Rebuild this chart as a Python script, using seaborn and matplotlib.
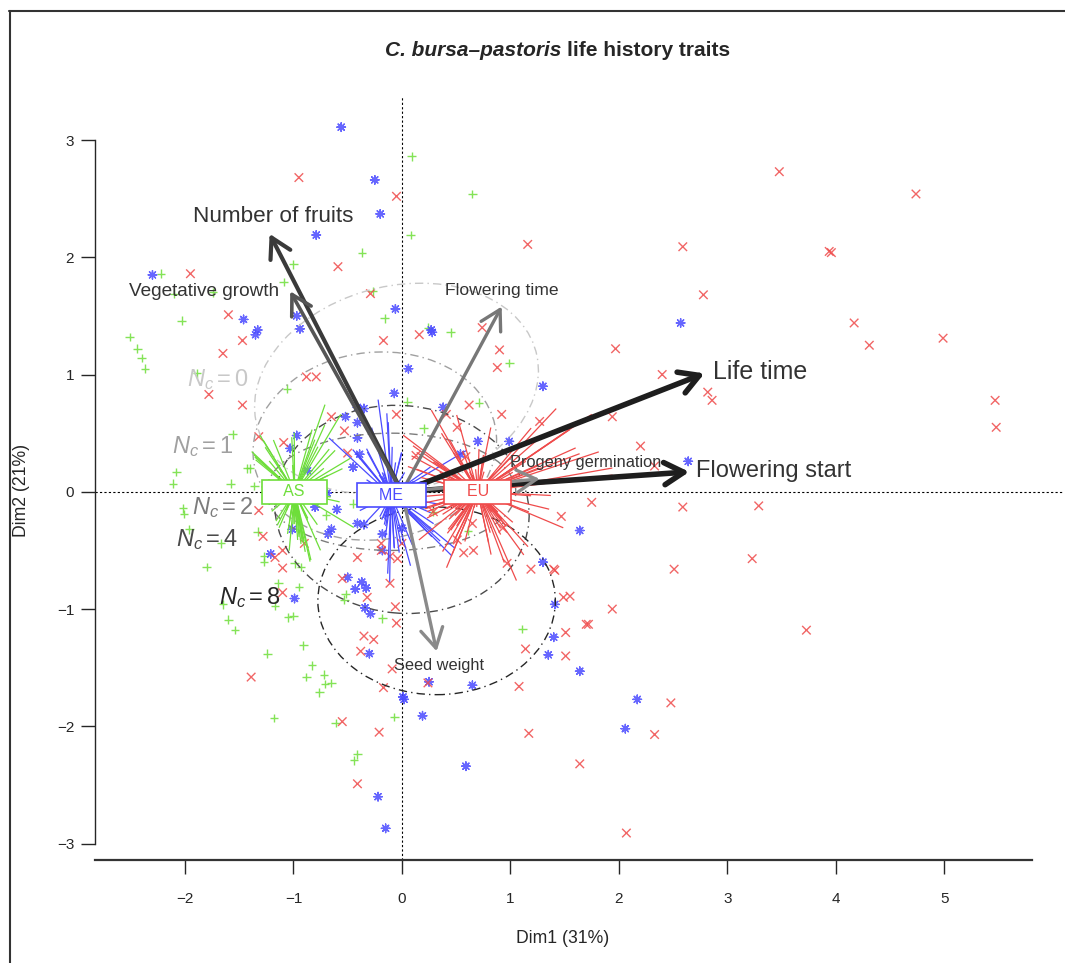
import numpy as np
import pandas as pd
import seaborn as sns
import matplotlib.pyplot as plt
from matplotlib.patches import Ellipse
from matplotlib.collections import LineCollection
from matplotlib.lines import Line2D

# individuals on the first two PCA dimensions
as_x = [0.09, 0.65, 0.08, -0.37, -1.0, -2.22, -1.09, -0.27, -2.1, -1.74, -2.03, -2.51, -2.44, -2.4,
        -2.37, -0.16, 0.24, 0.45, 0.99, -1.89, -1.06, 0.05, 0.71, 0.2, -1.56, -2.08, -1.43, -1.4,
        -2.11, -1.58, -1.36, -2.02, -2.01, -0.7, -0.45, -1.96, -1.33, -1.67, -1.8, -1.27, -1.27,
        -0.99, -0.93, -1.14, -0.95, -1.65, -1.17, -1.6, -1.54, -1.05, -1.0, -0.52, -0.53, -0.18,
        -0.91, -1.24, -0.83, -0.88, -0.72, -0.71, -0.65, -0.76, 1.11, -1.18, -0.61, -0.07, -0.41,
        -0.44, 0.61, 0.29]
as_y = [2.86, 2.54, 2.19, 2.04, 1.94, 1.86, 1.79, 1.71, 1.69, 1.70, 1.46, 1.32, 1.22, 1.14,
        1.05, 1.48, 1.40, 1.36, 1.10, 1.01, 0.88, 0.77, 0.76, 0.54, 0.49, 0.17, 0.20, 0.20,
        0.07, 0.07, 0.05, -0.14, -0.19, -0.20, -0.10, -0.32, -0.34, -0.44, -0.64, -0.55, -0.60,
        -0.61, -0.64, -0.78, -0.81, -0.96, -0.97, -1.09, -1.18, -1.07, -1.06, -0.87, -0.92, -1.08,
        -1.31, -1.38, -1.48, -1.58, -1.56, -1.64, -1.63, -1.71, -1.17, -1.93, -1.97, -1.92, -2.24,
        -2.29, -0.33, -0.17]

me_x = [-0.56, -0.25, -0.2, -0.79, -2.3, -1.46, -1.33, -1.35, -0.97, -0.94, -0.06, 0.28, 0.27,
        2.57, 1.3, 0.06, -0.07, -0.41, -0.35, -0.52, -0.41, -0.41, 0.38, 0.7, 0.99, -0.97, -1.03,
        -0.39, -0.45, -0.87, 0.54, 2.64, -0.69, -0.6, -0.8, -1.01, -0.65, -0.68, -0.41, -0.35,
        -0.18, -0.18, 0.0, 1.64, -1.21, -0.99, -0.5, -0.37, -0.33, -0.43, -0.34, -0.29, -0.3,
        0.01, 0.02, 0.25, 0.65, 1.35, 1.4, 1.41, 1.3, 1.64, 2.17, 2.06, 0.19, 0.59, -0.22, -0.15]
me_y = [3.11, 2.66, 2.37, 2.19, 1.85, 1.47, 1.38, 1.34, 1.50, 1.39, 1.56, 1.36, 1.38,
        1.44, 0.90, 1.05, 0.84, 0.72, 0.71, 0.64, 0.59, 0.46, 0.72, 0.43, 0.43, 0.48, 0.37,
        0.32, 0.21, 0.18, 0.32, 0.26, -0.01, -0.15, -0.13, -0.32, -0.32, -0.36, -0.27, -0.28,
        -0.36, -0.50, -0.31, -0.33, -0.53, -0.91, -0.73, -0.77, -0.82, -0.83, -0.99, -1.04, -1.38,
        -1.75, -1.77, -1.62, -1.65, -1.39, -1.24, -0.96, -0.60, -1.53, -1.77, -2.02, -1.91, -2.34,
        -2.60, -2.87]

eu_x = [3.48, 4.74, 3.94, 3.96, 1.16, 2.59, 2.78, 4.17, 4.31, 4.99, 1.97, 2.4, 2.82, 2.86, 5.47,
        5.48, 1.94, 2.2, 2.33, 1.75, 2.59, 3.29, 1.47, 3.23, 2.51, 1.41, 1.49, 1.55, 1.94, 1.7,
        1.72, 3.73, 1.51, 1.51, 2.48, 2.33, 1.64, 2.07, -0.95, -0.05, -0.59, -1.95, -0.29, -1.6,
        -1.47, -1.65, -0.17, 0.16, 0.74, 0.9, 0.88, -0.88, -0.79, -1.78, -1.47, -0.05, -0.65,
        -0.53, 0.62, 0.92, 0.51, 0.41, 1.27, -1.32, -1.09, -0.5, 0.13, 0.59, -1.32, -1.28, -0.9,
        -0.19, -0.19, -0.11, -0.04, -0.41, -0.11, -1.17, -1.1, -1.1, -1.1, -0.55, -0.32, -0.06,
        -0.05, -0.35, -0.26, -0.38, -1.39, -0.09, -0.17, 0.24, 1.08, 1.14, 1.19, 1.4, 1.17, -0.55,
        -0.21, -0.41, 0.57, 0.66, 0.51, 0.65, 0.29, 0.0, 0.93, 0.97]
eu_y = [2.73, 2.54, 2.05, 2.04, 2.11, 2.09, 1.68, 1.44, 1.25, 1.31, 1.22, 1.0, 0.85, 0.78, 0.78,
        0.55, 0.64, 0.39, 0.22, -0.09, -0.13, -0.12, -0.21, -0.57, -0.66, -0.67, -0.90, -0.89,
        -1.0, -1.13, -1.13, -1.18, -1.20, -1.40, -1.80, -2.07, -2.32, -2.91, 2.68, 2.52, 1.92,
        1.86, 1.69, 1.51, 1.29, 1.18, 1.29, 1.34, 1.40, 1.21, 1.06, 0.98, 0.98, 0.83, 0.74, 0.66,
        0.64, 0.52, 0.74, 0.66, 0.55, 0.66, 0.60, 0.47, 0.42, 0.33, 0.31, 0.30, -0.16, -0.38,
        -0.44, -0.44, -0.50, -0.55, -0.57, -0.56, -0.78, -0.56, -0.65, -0.50, -0.86, -0.74, -0.90,
        -0.98, -1.12, -1.23, -1.26, -1.36, -1.58, -1.51, -1.67, -1.63, -1.66, -1.34, -0.66, -0.66,
        -2.06, -1.96, -2.05, -2.49, -0.52, -0.50, -0.41, -0.27, -0.17, -0.44, -0.31, -0.61]

groups = ["AS", "ME", "EU"]
centre_x = [-0.99, -0.10, 0.70]
centre_y = [0.00, -0.03, 0.00]
star_shrink = 0.26

# trait loadings (arrow tips)
traits = ["Number of fruits", "Vegetative growth", "Flowering time", "Life time",
          "Flowering start", "Progeny germination", "Seed weight"]
trait_x = [-1.22, -1.03, 0.92, 2.79, 2.65, 1.27, 0.32]
trait_y = [2.20, 1.71, 1.58, 1.01, 0.17, 0.11, -1.36]

# ellipses for the number of clusters Nc
nc_values = ["0", "1", "2", "4", "8"]
ell_x = [-0.05, -0.25, -0.10, 0.00, 0.32]
ell_y = [0.88, 0.39, 0.00, -0.15, -0.93]
ell_w = [2.65, 2.25, 2.30, 2.35, 2.19]
ell_h = [1.75, 1.60, 1.00, 1.77, 1.60]
ell_angle = [12, 5, 0, -5, 0]

# ---- styling / layout
pal = {"AS": "#6ede3a", "ME": "#4b4bff", "EU": "#ef4b4b"}
marks = {"AS": "+", "ME": (8, 2, 0), "EU": "x"}
nc_grey = ["#c8c8c8", "#a0a0a0", "#7c7c7c", "#4a4a4a", "#262626"]
nc_lab_pos = [(-1.70, 0.96), (-1.84, 0.39), (-1.65, -0.13), (-1.80, -0.41), (-1.40, -0.90)]

arrow_col = ["#3a3a3a", "#555555", "#777777", "#1e1e1e", "#1e1e1e", "#8a8a8a", "#8a8a8a"]
arrow_lw = [3.0, 2.6, 2.4, 4.0, 4.0, 2.4, 2.4]
lab_pos = [(-1.19, 2.35), (-1.82, 1.71), (0.92, 1.72), (2.87, 1.02), (2.71, 0.18),
           (1.69, 0.25), (0.34, -1.48)]
lab_ha = ["center", "center", "center", "left", "left", "center", "center"]
lab_fs = [16.2, 13.7, 12.6, 18, 17, 11.8, 11.8]

sns.set_style("ticks")
plt.rcParams["font.family"] = ["Liberation Sans", "DejaVu Sans"]
plt.rcParams["mathtext.fontset"] = "custom"
plt.rcParams["mathtext.rm"] = "Liberation Sans"
plt.rcParams["mathtext.it"] = "Liberation Sans:italic"

W, H = 1065, 963
fig = plt.figure(figsize=(W / 100, H / 100), dpi=100)
ax = fig.add_axes([95 / W, 1 - 860 / H, (1032 - 95) / W, (860 - 97) / H])

df = pd.concat([
    pd.DataFrame({"x": as_x, "y": as_y, "group": "AS"}),
    pd.DataFrame({"x": me_x, "y": me_y, "group": "ME"}),
    pd.DataFrame({"x": eu_x, "y": eu_y, "group": "EU"}),
], ignore_index=True)

sns.scatterplot(data=df, x="x", y="y", hue="group", style="group", palette=pal,
                markers=marks, s=38, linewidth=1.0, alpha=0.85, legend=False, ax=ax, zorder=2)

# star lines from each group centre towards its individuals
for g, cx, cy in zip(groups, centre_x, centre_y):
    sub = df[df["group"] == g]
    ex = cx + star_shrink * (sub["x"].values - cx)
    ey = cy + star_shrink * (sub["y"].values - cy)
    segs = [[(cx, cy), (a, b)] for a, b in zip(ex, ey)]
    ax.add_collection(LineCollection(segs, colors=pal[g], linewidths=0.9, zorder=3))

for i, nc in enumerate(nc_values):
    ax.add_patch(Ellipse((ell_x[i], ell_y[i]), ell_w[i], ell_h[i], angle=ell_angle[i],
                         fill=False, ec=nc_grey[i], lw=1.0, ls=(0, (6, 3, 1, 3)), zorder=2.5))
    ax.text(*nc_lab_pos[i], r"$N_c = %s$" % nc, color=nc_grey[i], fontsize=17,
            ha="center", va="center", zorder=6)

ax.axvline(0, color="black", lw=0.8, ls=(0, (2, 2)), zorder=1)
ax.plot([-2.83, 6.10], [0, 0], color="black", lw=0.8, ls=(0, (2, 2)), zorder=1, clip_on=False)

for i, t in enumerate(traits):
    ax.annotate("", xy=(trait_x[i], trait_y[i]), xytext=(0, 0), zorder=4,
                arrowprops=dict(arrowstyle="->,head_length=0.7,head_width=0.4",
                                mutation_scale=20, lw=arrow_lw[i], color=arrow_col[i],
                                shrinkA=0, shrinkB=0, capstyle="round", joinstyle="round"))
    ax.text(*lab_pos[i], t, fontsize=lab_fs[i], color="#333333", ha=lab_ha[i],
            va="center", zorder=6)

for g, cx, cy in zip(groups, centre_x, centre_y):
    ax.text(cx, cy, "    " + g + "    ", color=pal[g], fontsize=11.5, ha="center", va="center",
            zorder=5, bbox=dict(boxstyle="square,pad=0.28", fc="white", ec=pal[g], lw=1.2))

ax.set_xlim(-2.83, 5.81)
ax.set_ylim(-3.14, 3.367)
ax.set_xticks(range(-2, 6))
ax.set_yticks(range(-3, 4))
sns.despine(ax=ax)
ax.spines["left"].set_bounds(-3, 3)
ax.spines["bottom"].set_linewidth(1.6)
ax.spines["bottom"].set_color("#333333")
ax.spines["left"].set_linewidth(1.0)
ax.tick_params(axis="x", direction="out", length=10, width=1.0, labelsize=11, pad=13)
ax.tick_params(axis="y", direction="out", length=10, width=1.0, labelsize=11, pad=5)
ax.set_xlabel("")
ax.set_ylabel("")
fig.text(563 / W, 1 - 938 / H, "Dim1 (31%)", fontsize=12.7, ha="center", va="center")
fig.text(22 / W, 1 - 490 / H, "Dim2 (21%)", fontsize=12.7, ha="center", va="center",
         rotation=90)

# title: italic species name followed by bold plain text
t1 = fig.text(385 / W, 1 - 50 / H, "C. bursa–pastoris", fontsize=15, fontweight="bold",
              fontstyle="italic", ha="left", va="center")
fig.canvas.draw()
x_end = t1.get_window_extent().x1 / W
fig.text(x_end + 6 / W, 1 - 50 / H, "life history traits", fontsize=15, fontweight="bold",
         ha="left", va="center")

# frame around the figure panel
fig.add_artist(Line2D([9 / W, 1.0], [1 - 11 / H, 1 - 11 / H], color="#333333", lw=1.5))
fig.add_artist(Line2D([10 / W, 10 / W], [0.0, 1 - 11 / H], color="#333333", lw=1.5))

fig.savefig("out.png", dpi=100)
